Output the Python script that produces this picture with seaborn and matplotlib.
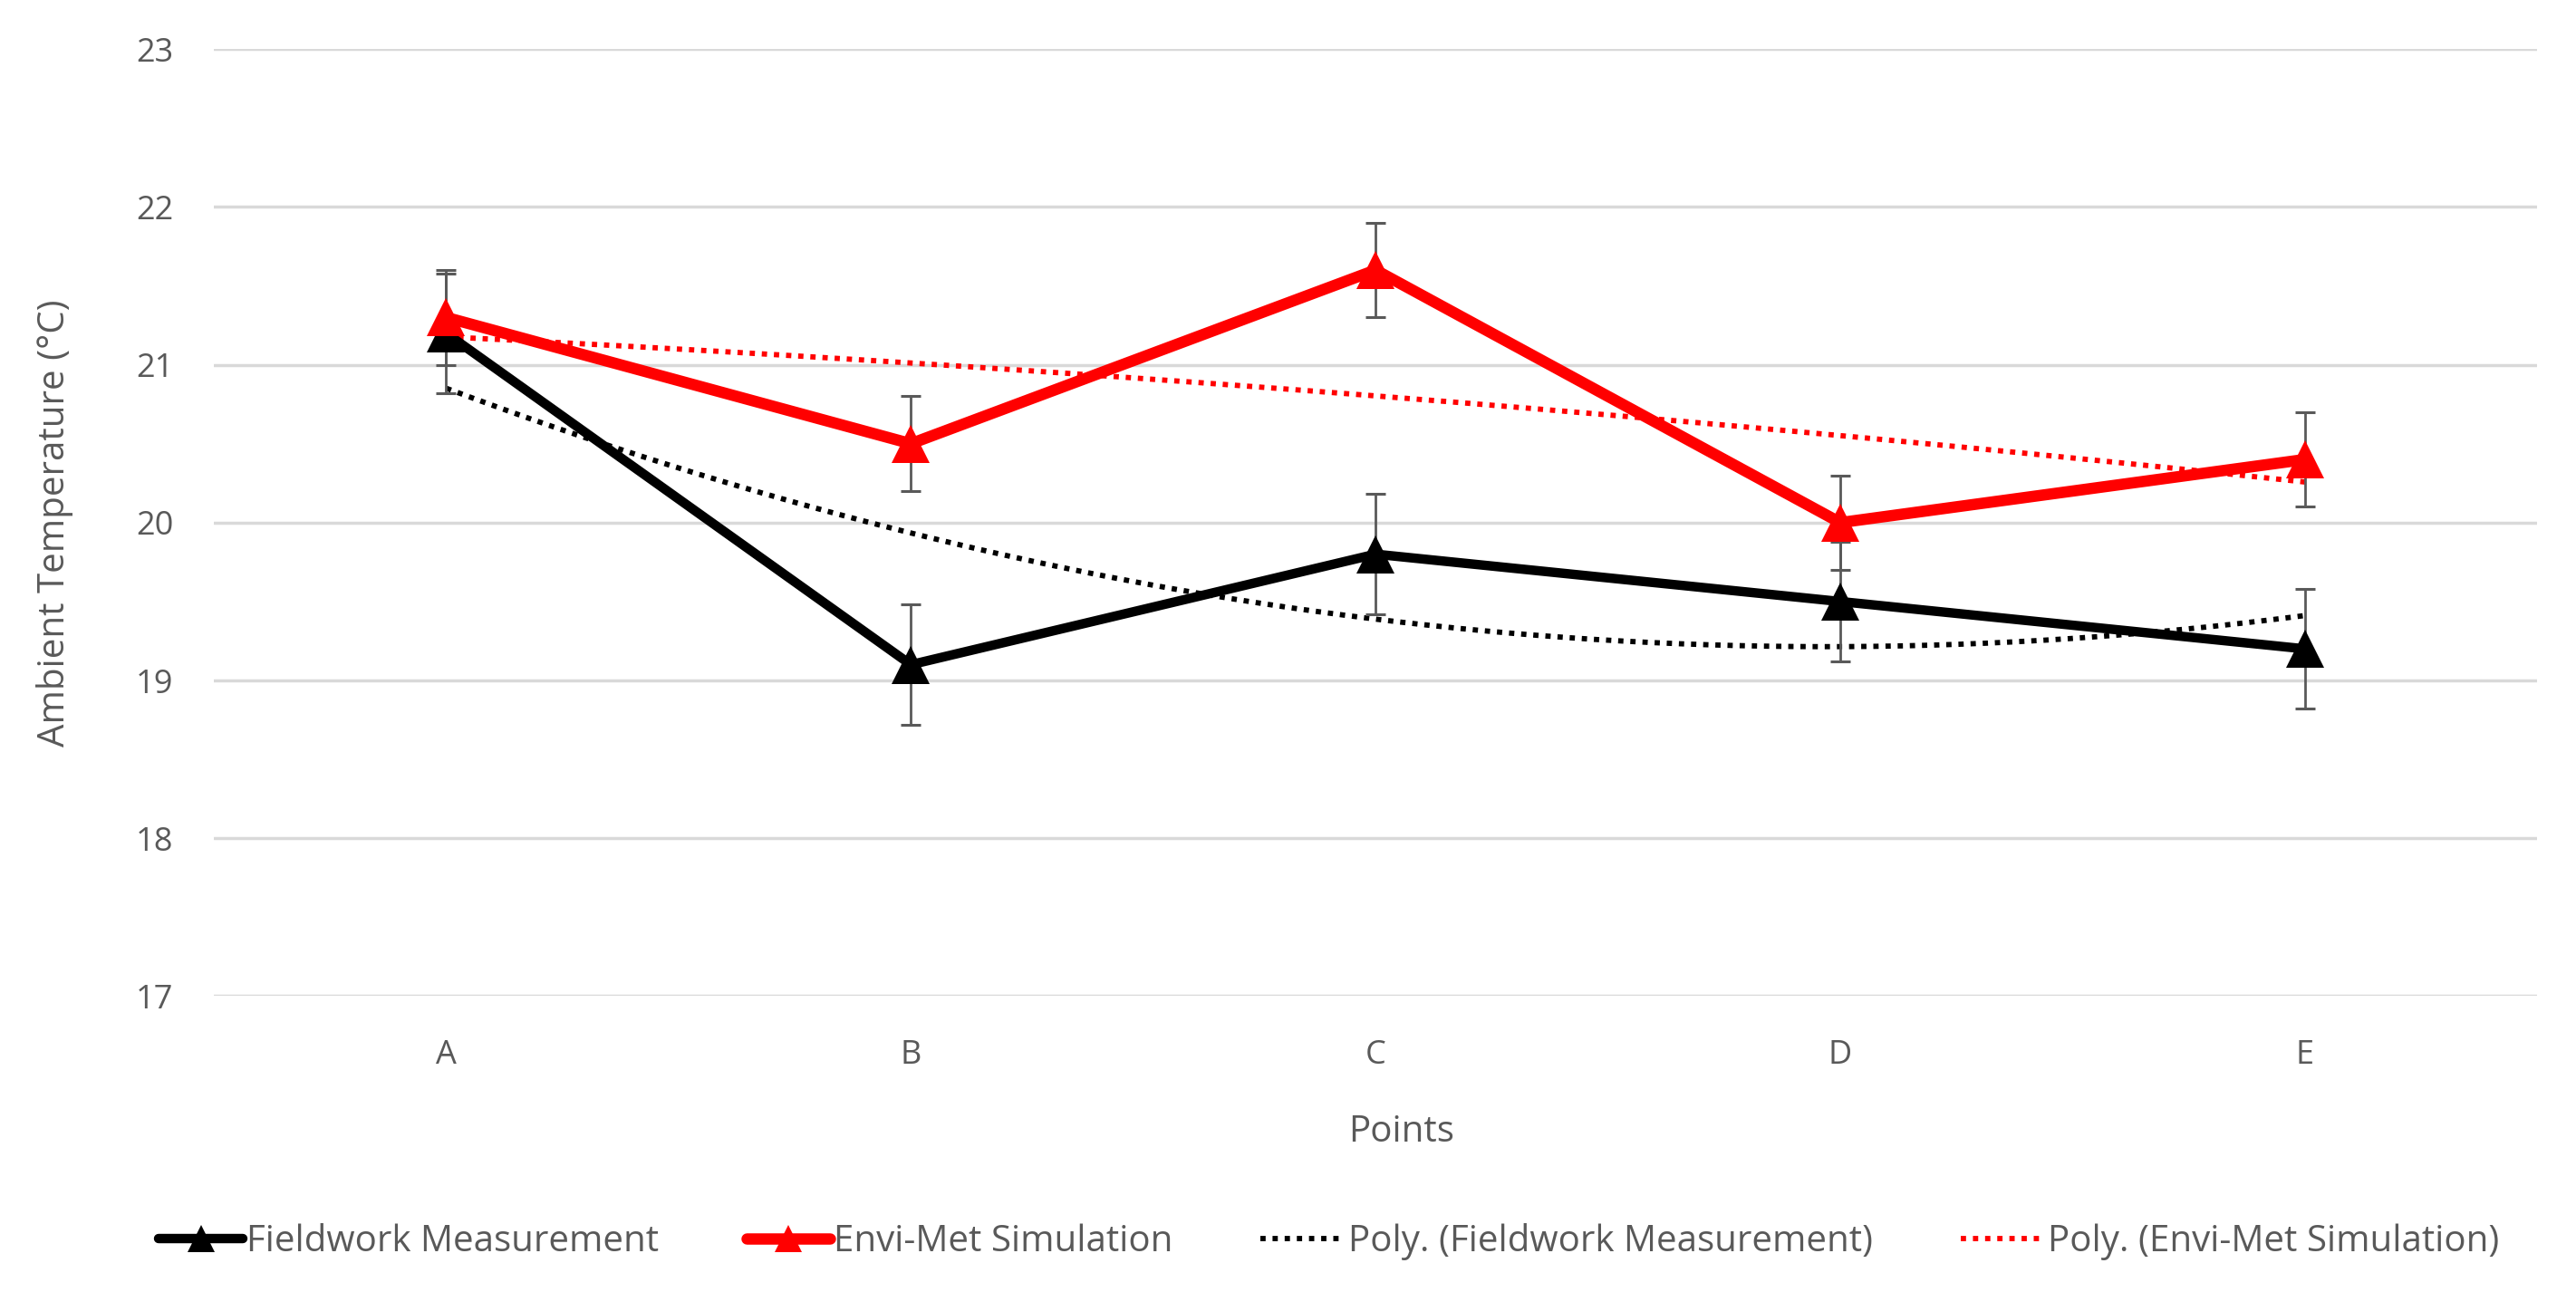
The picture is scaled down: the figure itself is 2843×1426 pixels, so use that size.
import matplotlib
matplotlib.use("Agg")
import matplotlib.pyplot as plt
import numpy as np
import pandas as pd
import seaborn as sns

points = ["A", "B", "C", "D", "E"]
fieldwork = [21.2, 19.1, 19.8, 19.5, 19.2]
fieldwork_err = [0.38, 0.38, 0.38, 0.38, 0.38]
envimet = [21.3, 20.5, 21.6, 20.0, 20.4]
envimet_err = [0.3, 0.3, 0.3, 0.3, 0.3]
y_ticks = [17, 18, 19, 20, 21, 22, 23]

sns.set_theme(style="white")
plt.rcParams['font.family'] = ['Open Sans', 'DejaVu Sans']

grey = "#595959"
pos = np.arange(len(points))
df = pd.DataFrame({"pos": pos, "Fieldwork": fieldwork, "Envi": envimet})

fig = plt.figure(figsize=(28.43, 14.26), dpi=100)
ax = fig.add_axes([0.083, 0.229, 0.902, 0.733])

for yt in y_ticks:
    ax.axhline(yt, color="#d9d9d9", lw=2.5, zorder=0)

# second order trendlines, like Excel "Poly."
xs = np.linspace(0, 4, 200)
cf = np.polyfit(pos, fieldwork, 2)
ce = np.polyfit(pos, envimet, 2)
ax.plot(xs, np.polyval(cf, xs), color="black", lw=4.2, ls=(0, (1, 1.3)), zorder=2,
        label="Poly. (Fieldwork Measurement)")
ax.plot(xs, np.polyval(ce, xs), color="#ff0000", lw=4.2, ls=(0, (1, 1.3)), zorder=2,
        label="Poly. (Envi-Met Simulation)")

ax.errorbar(pos, fieldwork, yerr=fieldwork_err, fmt="none", ecolor=grey, elinewidth=2,
            capsize=8, capthick=2.2, zorder=3)
ax.errorbar(pos, envimet, yerr=envimet_err, fmt="none", ecolor=grey, elinewidth=2,
            capsize=8, capthick=2.2, zorder=3)

sns.lineplot(data=df, x="pos", y="Fieldwork", ax=ax, color="black", lw=7.5, marker="^",
             markersize=30, markeredgewidth=0, label="Fieldwork Measurement", zorder=4)
sns.lineplot(data=df, x="pos", y="Envi", ax=ax, color="#ff0000", lw=9, marker="^",
             markersize=30, markeredgewidth=0, label="Envi-Met Simulation", zorder=5)

ax.set_xlim(-0.5, 4.5)
ax.set_ylim(17, 23)
ax.set_xticks(pos)
ax.set_xticklabels(points)
ax.set_yticks(y_ticks)
ax.tick_params(axis="x", labelsize=26, colors=grey, pad=34, length=0)
ax.tick_params(axis="y", labelsize=26, colors=grey, pad=32, length=0)
for s in ax.spines.values():
    s.set_visible(False)

ax.set_xlabel("Points", fontsize=29, color=grey, labelpad=34)
ax.xaxis.label.set_x(0.511)
ax.set_ylabel("Ambient Temperature (°C)", fontsize=29, color=grey, labelpad=50)

h, l = ax.get_legend_handles_labels()
order = [l.index("Fieldwork Measurement"), l.index("Envi-Met Simulation"),
         l.index("Poly. (Fieldwork Measurement)"), l.index("Poly. (Envi-Met Simulation)")]
leg = fig.legend([h[i] for i in order], [l[i] for i in order], loc="center",
                 bbox_to_anchor=(0.516, 0.039), ncol=4, frameon=False, fontsize=29,
                 handlelength=2.3, handletextpad=0.1, columnspacing=2.4, markerscale=0.7)
for t in leg.get_texts():
    t.set_color(grey)
if ax.get_legend():
    ax.get_legend().remove()

fig.savefig("out.png", dpi=100)
